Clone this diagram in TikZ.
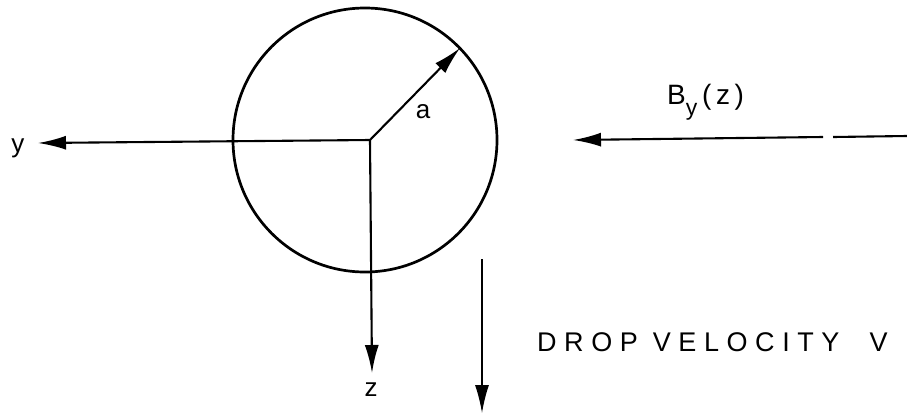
\documentclass[tikz,border=0pt]{standalone}
\usepackage{fontspec}
\setmainfont{Liberation Sans}
\usetikzlibrary{arrows.meta}
\begin{document}
\begin{tikzpicture}[x=1pt,y=-1pt,
  ax/.style={line width=2.1pt,-{Latex[length=28pt,width=14pt]}},
  thin arrow/.style={line width=1.4pt,-{Latex[length=28pt,width=14pt]}},
  lbl/.style={font=\fontsize{26}{30}\selectfont, inner sep=0pt}]
\useasboundingbox (0,0) rectangle (907,413);
% drop
\node[circle,draw,line width=2.7pt,minimum size=264pt,inner sep=0pt] (drop) at (365,140) {};
\coordinate (O) at (370,140);
\coordinate (ytip) at (38,143);
\coordinate (ztip) at (372,373);
\coordinate (rtip) at (460,48);
\draw[ax] (O) -- (ytip);
\draw[ax] (O) -- (ztip);
\draw[ax] (O) -- (rtip);
\node[lbl] (ylbl) at (18,148) {y};
\node[lbl] (zlbl) at (371,390) {z};
\node[lbl] (albl) at (423,112) {a};
% field
\coordinate (Bstart) at (907,136);
\coordinate (Bg1) at (833,137);
\coordinate (Bg2) at (823,137);
\coordinate (Btip) at (573,140);
\draw[line width=2.1pt] (Bstart) -- (Bg1);
\draw[ax] (Bg2) -- (Btip);
\node[lbl,anchor=west,font=\fontsize{28}{30}\selectfont\addfontfeature{LetterSpace=8}] (Blbl) at (667,102) {B\raisebox{-0.4em}{\fontsize{23}{24}\selectfont y}\,(\,z\,)};
% velocity
\coordinate (vtop) at (482,259);
\coordinate (vtip) at (482,413);
\draw[thin arrow] (vtop) -- (vtip);
\node[lbl,anchor=west,font=\fontsize{27}{30}\selectfont\addfontfeature{LetterSpace=28}] (vlbl) at (537,342) {DROP VELOCITY\ \ V};
\end{tikzpicture}
\end{document}
